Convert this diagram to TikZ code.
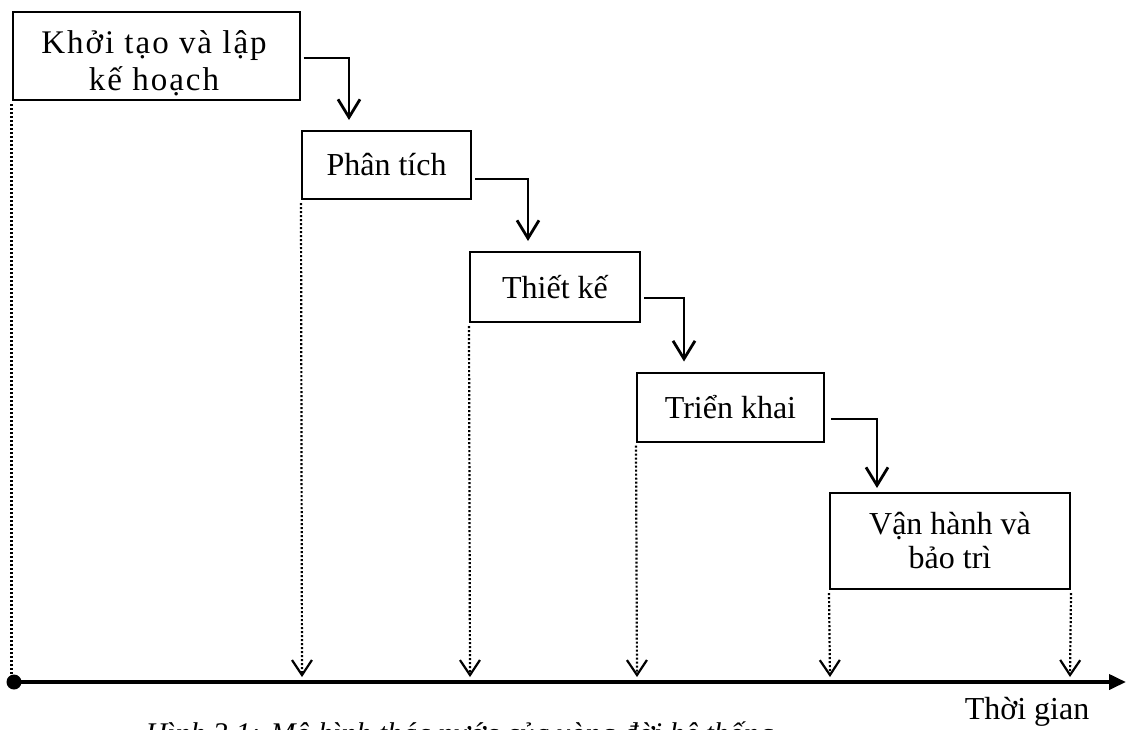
\documentclass[tikz,border=0pt]{standalone}
\usepackage{fontspec}
\setmainfont{Liberation Serif}
\newfontfamily\spacedserif[LetterSpace=6]{Liberation Serif}
\usetikzlibrary{arrows.meta,calc}
\begin{document}
\begin{tikzpicture}[x=1pt,y=-1pt,
  stage/.style={draw,line width=2pt,inner sep=0pt,align=center,
    font=\fontsize{32}{34}\selectfont},
  flow/.style={line width=2.8pt,-{Straight Barb[length=18pt,width=22pt,line width=2.8pt]}},
  guide/.style={line width=2.2pt,dash pattern=on 2pt off 2pt},
  span/.style={guide,-{Straight Barb[length=15pt,width=20pt,line width=2.2pt]}},
  axisline/.style={line width=3.8pt,-{Triangle[length=17pt,width=15pt]}}]
\clip (0,0) rectangle (1129,729);
\fill[white] (0,0) rectangle (1129,729);

% stages of the life cycle
\node[stage,minimum width=287pt,minimum height=88pt] (b1) at (156,56) {};
\node[font=\fontsize{33}{37}\selectfont,align=center,inner sep=0pt] (b1text) at (154,63)
  {\spacedserif Khởi tạo và lập\\\spacedserif kế hoạch};
\node[stage,minimum width=169pt,minimum height=68pt] (b2) at (386.5,165) {Phân tích};
\node[stage,minimum width=170pt,minimum height=70pt] (b3) at (555,287) {Thiết kế};
\node[stage,minimum width=187pt,minimum height=69pt] (b4) at (730.5,407) {Triển khai};
\node[stage,minimum width=240pt,minimum height=96pt] (b5) at (950,541) {Vận hành và\\bảo trì};

% hand-over arrows between stages
\draw[flow,shorten <=3pt,shorten >=10pt] ([yshift=-2pt]b1.east) -| ([xshift=48pt]b2.north west);
\draw[flow,shorten <=3pt,shorten >=10pt] ([yshift=-14pt]b2.east) -| ([xshift=59pt]b3.north west);
\draw[flow,shorten <=3pt,shorten >=10pt] ([yshift=-11pt]b3.east) -| ([xshift=48pt]b4.north west);
\draw[flow,shorten <=6pt,shorten >=4pt] ([yshift=-12pt]b4.east) -| ([xshift=48pt]b5.north west);

% time axis
\coordinate (t0) at (14,682);
\coordinate (tend) at (1126,682);
\coordinate (m2) at (302,677);
\coordinate (m3) at (470,677);
\coordinate (m4) at (637,677);
\coordinate (m5) at (830,677);
\coordinate (m6) at (1070,677);
\draw[axisline] (t0) -- (tend);
\fill (t0) circle (7.5pt);
\node[font=\fontsize{32}{34}\selectfont,anchor=base] (tlabel) at (1027,719) {Thời gian};

% start of each stage projected on the axis
\draw[guide] ([yshift=-3pt]b1.south west) -- (t0 -| b1.south west);
\draw[span] ([yshift=-3pt]b2.south west) -- (m2);
\draw[span] ([yshift=-3pt]b3.south west) -- (m3);
\draw[span] ([yshift=-3pt]b4.south west) -- (m4);
\draw[span] ([yshift=-3pt]b5.south west) -- (m5);
\draw[span] ([yshift=-3pt]b5.south east) -- (m6);

% figure caption
\node[font=\itshape\fontsize{30}{34}\selectfont,anchor=base west] (cap) at (142,743)
  {Hình 3.1: Mô hình thác nước của vòng đời hệ thống};
\end{tikzpicture}
\end{document}
